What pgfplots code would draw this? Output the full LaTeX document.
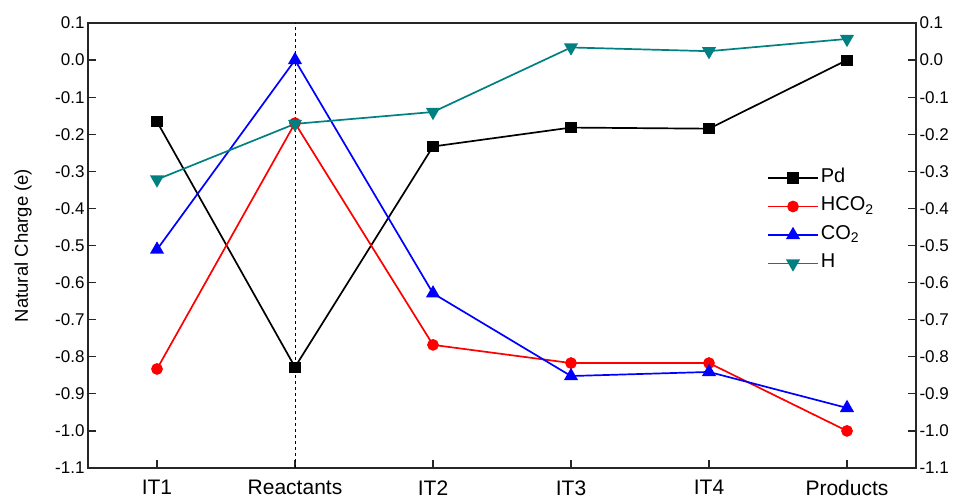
\documentclass[border=0pt]{standalone}
\usepackage{pgfplots}
\pgfplotsset{compat=1.18}
\usepackage{fontspec}
\setmainfont{Liberation Sans}
\definecolor{tealc}{RGB}{0,128,128}
\begin{document}
\begin{tikzpicture}
\pgfplotsset{
  myax/.style={
    scale only axis, width=828pt, height=445pt,
    xmin=-0.5, xmax=5.5, ymin=-1.1, ymax=0.1,
    ytick={-1.1,-1.0,-0.9,-0.8,-0.7,-0.6,-0.5,-0.4,-0.3,-0.2,-0.1,0.0,0.1},
    yticklabel style={font=\fontsize{17}{20}\selectfont,/pgf/number format/.cd,fixed,fixed zerofill,precision=1,assume math mode=true},
    xticklabel style={font=\fontsize{21}{25}\selectfont, yshift=-9pt},
    tick align=inside, major tick length=8pt,
    axis line style={line width=1.2pt, black!85},
    every tick/.style={line width=1.2pt, black!85},
  }
}
\begin{axis}[myax,
  xtick={0,1,2,3,4,5},
  xticklabels={IT1,Reactants,IT2,IT3,IT4,Products},
  xtick pos=bottom,
  ytick pos=both,
  yticklabel pos=left,
  ylabel={Natural Charge (e)},
  every axis y label/.style={at={(axis description cs:-0.0785,0.5)}, rotate=90, anchor=center, font=\fontsize{18.5}{22}\selectfont},
  legend style={draw=none, fill=none, at={(rel axis cs:0.82,0.678)}, anchor=north west,
    font=\fontsize{20}{24}\selectfont, row sep=5.5pt, inner sep=0pt,
    nodes={inner sep=2pt, text height=14pt, text depth=5pt}},
  legend cell align=left,
  legend image code/.code={\draw[#1] (0pt,0pt) -- (50pt,0pt); \draw[#1] plot coordinates {(25pt,0pt)};},
  every axis plot/.append style={line width=1.7pt},
]
\draw[dashed, line width=0.6pt] (axis cs:1,-1.1) -- (axis cs:1,0.1);
\addplot[black, mark=square*, mark size=4.7pt, mark options={solid}] coordinates {
(0,-0.166) (1,-0.828) (2,-0.233) (3,-0.182) (4,-0.185) (5,0.0)};
\addlegendentry{Pd}
\addplot[red, mark=*, mark size=5pt] coordinates {
(0,-0.833) (1,-0.170) (2,-0.768) (3,-0.817) (4,-0.817) (5,-1.0)};
\addlegendentry{HCO\textsubscript{2}}
\addplot[blue, mark=triangle*, mark size=6.5pt] coordinates {
(0,-0.511) (1,0.0) (2,-0.629) (3,-0.852) (4,-0.841) (5,-0.938)};
\addlegendentry{CO\textsubscript{2}}
\addplot[tealc, mark=triangle*, mark size=6.5pt, mark options={rotate=180}] coordinates {
(0,-0.322) (1,-0.172) (2,-0.140) (3,0.034) (4,0.024) (5,0.057)};
\addlegendentry{H}
\end{axis}
\begin{axis}[myax,
  axis x line=none,
  axis y line*=right,
  ytick style={draw=none},
  yticklabel pos=right,
]
\end{axis}
\path ([xshift=-88pt,yshift=-30pt]current axis.south west) rectangle ([xshift=41pt,yshift=23pt]current axis.north east);
\end{tikzpicture}
\end{document}
